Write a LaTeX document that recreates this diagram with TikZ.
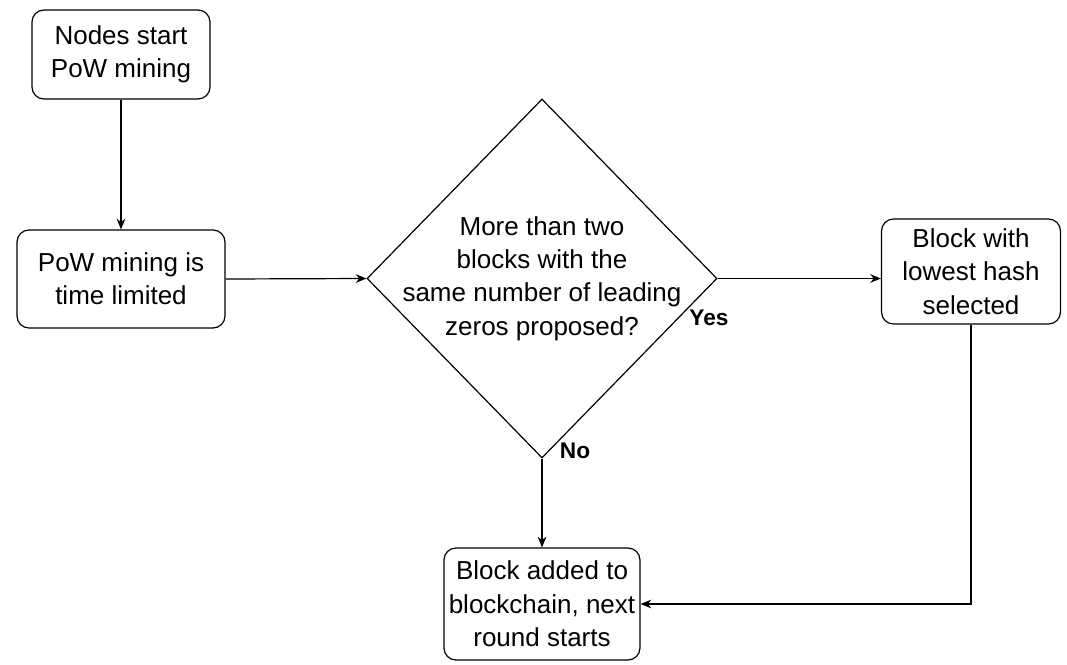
\documentclass[tikz,border=0pt]{standalone}
\usepackage{fontspec}
\setmainfont{Liberation Sans}
\usetikzlibrary{shapes.geometric,arrows.meta}

\begin{document}
\begin{tikzpicture}[x=0.75pt,y=-0.75pt,
  every node/.style={font=\fontsize{19.5}{25}\selectfont},
  stepbox/.style={draw, line width=0.9pt, rounded corners=9pt, align=center,
                  inner sep=0pt},
  decision/.style={draw, diamond, line width=0.9pt, inner sep=0pt},
  flow/.style={draw, line width=0.9pt, -{Stealth[length=8pt,width=6.5pt]}},
  answer/.style={font=\fontsize{17}{20}\selectfont\bfseries, inner sep=0pt}]

\useasboundingbox (0,0) rectangle (1067,664);

% process boxes
\node[stepbox, minimum width=133.5pt, minimum height=66.75pt] (start) at (121,54.5)
  {Nodes start\\PoW mining};
\node[stepbox, minimum width=156pt, minimum height=73.5pt] (limit) at (121,279)
  {PoW mining is\\time limited};
\node[stepbox, minimum width=134.25pt, minimum height=78.75pt] (lowest) at (971,271.5)
  {Block with\\lowest hash\\selected};
\node[stepbox, minimum width=147pt, minimum height=84pt] (added) at (542,604)
  {Block added to\\blockchain, next\\round starts};

% decision diamond and its question
\node[decision, minimum width=262.5pt, minimum height=269.25pt] (ask) at (542,278.5) {};
\node[align=center, inner sep=0pt] (asktext) at (ask.center)
  {More than two\\blocks with the\\same number of leading\\zeros proposed?};

% connectors
\draw[flow] (start.south) -- (limit.north);
\draw[flow] (limit.east) -- (ask.west);
\draw[flow] (ask.east) -- (ask.east -| lowest.west);
\draw[flow] (ask.south) -- (added.north);
\draw[flow] (lowest.south) |- (added.east);

% branch labels
\node[answer] (yes) at (709,318) {Yes};
\node[answer] (no) at (575,451) {No};
\end{tikzpicture}
\end{document}
